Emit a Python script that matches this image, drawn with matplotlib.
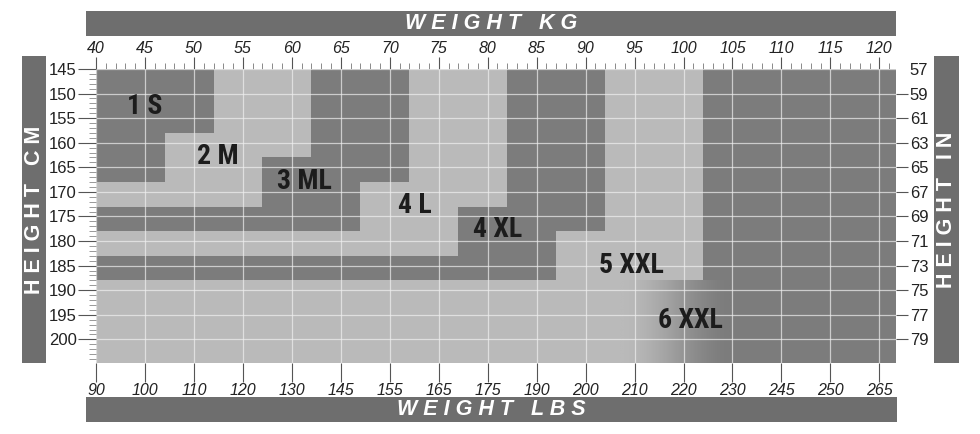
import matplotlib
matplotlib.use("Agg")
import matplotlib.pyplot as plt
import numpy as np
from matplotlib import font_manager as fm
from matplotlib.colors import LinearSegmentedColormap
from matplotlib.patches import Polygon, Rectangle

# size regions: each one is a two-step staircase from the top-left corner
size_labels = ["1 S", "2 M", "3 ML", "4 L", "4 XL", "5 XXL", "6 XXL"]
kg_max_short = [52, 62, 72, 82, 92, 102]   # weight limit above the step
cm_step = [158, 163, 168, 173, 178, 188]   # height where the step is
kg_max_tall = [47, 57, 67, 77, 87, 94]     # weight limit below the step
cm_max = [168, 173, 178, 183, 188, 205]    # height limit of the region

label_kg = [45.0, 52.4, 61.3, 72.6, 81.0, 94.7, 100.7]
label_cm = [152.7, 162.8, 167.8, 172.8, 177.6, 184.9, 196.2]

kg_ticks = list(range(40, 125, 5))
lbs_labels = [90, 100, 110, 120, 130, 145, 155, 165, 175, 190, 200, 210,
              220, 230, 245, 250, 265]
cm_ticks = list(range(145, 205, 5))
inch_labels = [57, 59, 61, 63, 65, 67, 69, 71, 73, 75, 77, 79]

DARK = "#7c7c7c"
LIGHT = "#bababa"
BAR = "#6e6e6e"
TXT = "#222222"

names = {f.name for f in fm.fontManager.ttflist}
label_family = "DejaVu Sans"
for cand in ["Roboto Condensed", "Liberation Sans Narrow"]:
    if cand in names:
        label_family = cand
        break

plt.rcParams["font.family"] = ["Liberation Sans", "DejaVu Sans"]

W, H = 980, 434
fig = plt.figure(figsize=(W / 100, H / 100), dpi=100)
ax = fig.add_axes([96 / W, 1 - 363 / H, 800 / W, 294 / H])
x0, x1 = 40, 121.7
y0, y1 = 145, 204.8
ax.set_xlim(x0, x1)
ax.set_ylim(y1, y0)
ax.set_facecolor(DARK)
for s in ax.spines.values():
    s.set_visible(False)

# paint from the biggest region down so smaller ones sit on top
for i in reversed(range(len(kg_max_short))):
    pts = [(x0, y0), (kg_max_short[i], y0), (kg_max_short[i], cm_step[i]),
           (kg_max_tall[i], cm_step[i]), (kg_max_tall[i], cm_max[i]),
           (x0, cm_max[i])]
    col = LIGHT if i % 2 == 1 else DARK
    ax.add_patch(Polygon(pts, closed=True, facecolor=col, edgecolor="none",
                         zorder=1))

# soft fade between 5 XXL and 6 XXL in the tall rows
t = np.linspace(0, 1, 200)
ramp = t * t * (3 - 2 * t)
fade = LinearSegmentedColormap.from_list("fade", [LIGHT, DARK])
ax.imshow(ramp[None, :], cmap=fade, aspect="auto", interpolation="bilinear",
          extent=[kg_max_tall[-1] - 0.5, 105, y1, cm_step[-1]], zorder=1.2)
ax.set_xlim(x0, x1)
ax.set_ylim(y1, y0)

ax.set_axisbelow(False)
ax.grid(which="major", color="#efefef", lw=0.9, alpha=0.7)

for lab, kx, cy in zip(size_labels, label_kg, label_cm):
    ax.text(kx, cy, lab, ha="center", va="center", fontsize=20,
            fontweight="bold", family=label_family, fontstretch="condensed",
            color="#1c1c1c", zorder=4)

# top axis: kg
ax.xaxis.tick_top()
ax.set_xticks(kg_ticks)
ax.set_xticks(np.arange(40, 122, 1), minor=True)
ax.set_xticklabels([str(k) for k in kg_ticks], fontsize=11.5, style="italic",
                   color=TXT)
ax.tick_params(axis="x", which="major", length=8.5, width=0.8,
               color="#555555", pad=1)
ax.tick_params(axis="x", which="minor", length=4, width=0.6, color="#777777")

# left axis: cm
ax.set_yticks(cm_ticks)
ax.set_yticks(np.arange(145, 205, 1), minor=True)
ax.set_yticklabels([str(c) for c in cm_ticks], fontsize=12, color=TXT)
ax.tick_params(axis="y", which="major", length=13, width=0.8,
               color="#555555", pad=1)
ax.tick_params(axis="y", which="minor", length=5, width=0.6, color="#888888")

# bottom axis: lbs
bot = ax.secondary_xaxis("bottom")
bot.set_xticks(kg_ticks, labels=[str(v) for v in lbs_labels])
bot.tick_params(length=13.5, width=0.8, color="#555555", pad=1,
                labelsize=11.5, labelcolor=TXT)
for lbl in bot.get_xticklabels():
    lbl.set_style("italic")
for s in bot.spines.values():
    s.set_visible(False)

# right axis: inches
rgt = ax.secondary_yaxis("right")
rgt.set_yticks(cm_ticks, labels=[str(v) for v in inch_labels])
rgt.tick_params(length=8.5, width=0.8, color="#555555", pad=1.5,
                labelsize=12, labelcolor=TXT)
first = rgt.yaxis.get_major_ticks()[0]
first.tick1line.set_visible(False)
first.tick2line.set_visible(False)
for s in rgt.spines.values():
    s.set_visible(False)

# title bars around the chart
bars = [
    (86, 11, 810, 25, "W E I G H T   K G", 0, "italic"),
    (86, 397, 811, 25, "W E I G H T   L B S", 0, "italic"),
    (22, 56, 24, 307, "H E I G H T   C M", 90, "normal"),
    (934, 56, 25, 307, "H E I G H T   I N", 90, "normal"),
]
for bx, by, bw, bh, txt, rot, sty in bars:
    fig.patches.append(Rectangle((bx / W, 1 - (by + bh) / H), bw / W, bh / H,
                                 transform=fig.transFigure, facecolor=BAR,
                                 edgecolor="none"))
    fig.text((bx + bw / 2) / W, 1 - (by + bh / 2) / H, txt, rotation=rot,
             ha="center", va="center", color="white", fontsize=15.5,
             fontweight="bold", style=sty)

fig.savefig("out.png", dpi=100, facecolor="white")
